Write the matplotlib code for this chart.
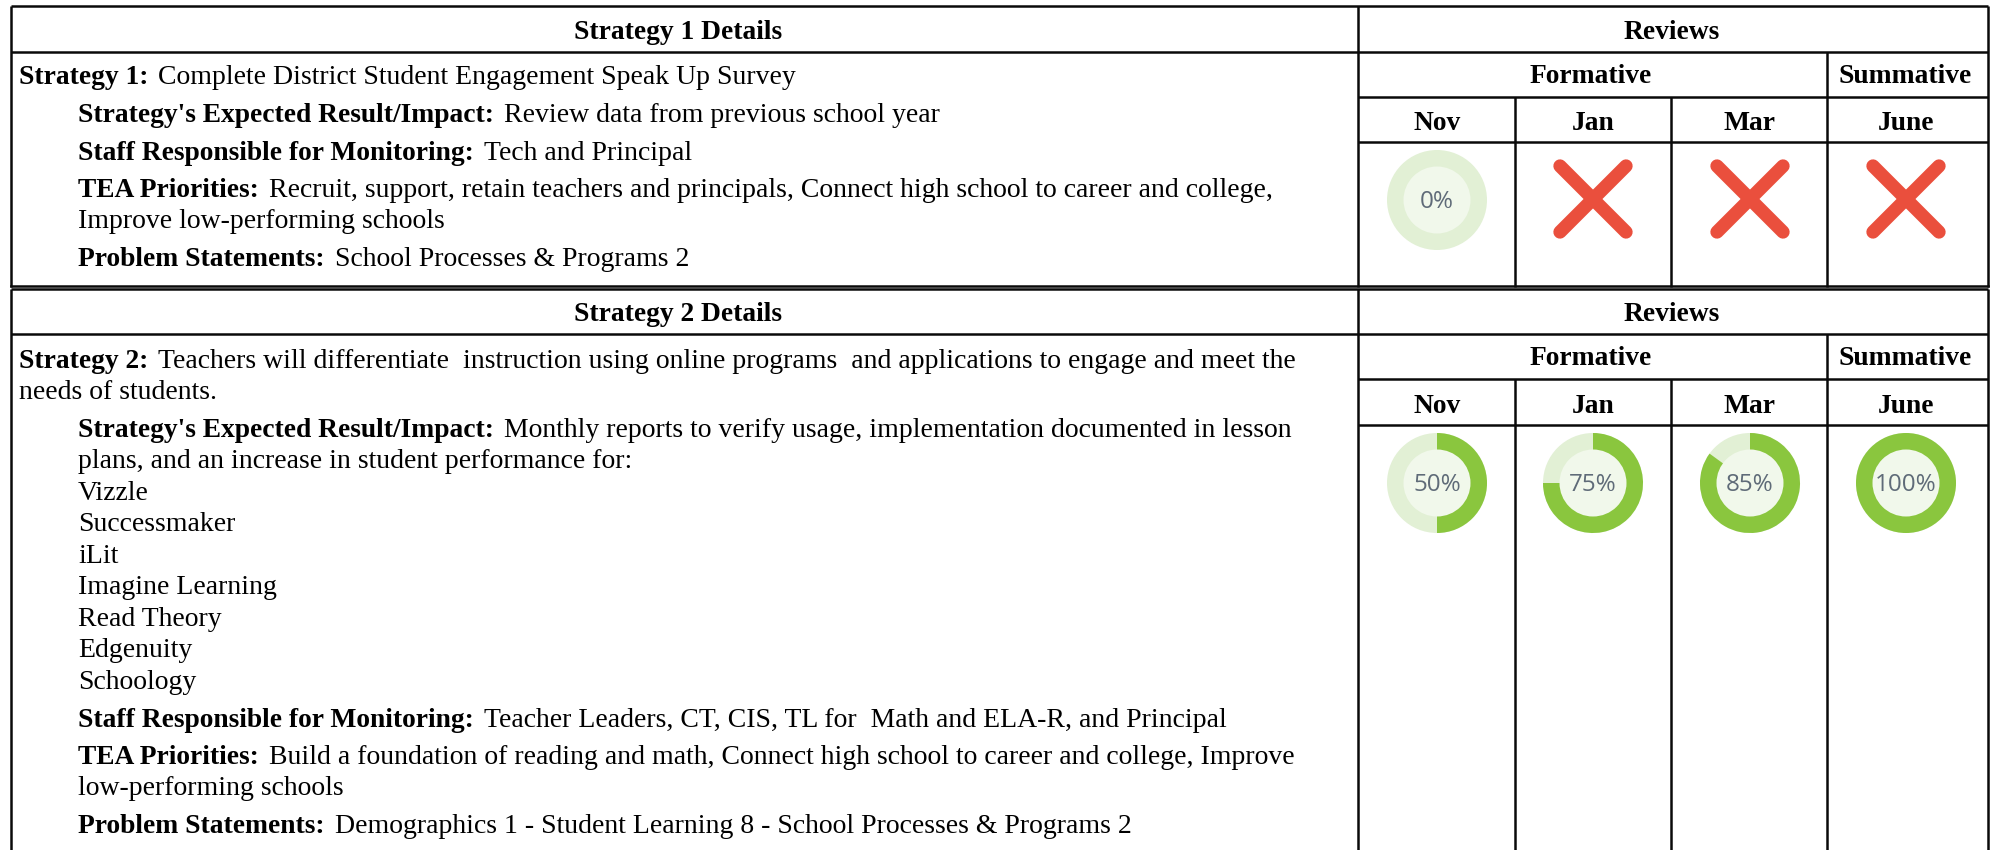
import matplotlib
matplotlib.use("Agg")
import matplotlib.pyplot as plt
from matplotlib.patches import Wedge, Circle

months = ["Nov", "Jan", "Mar", "June"]
month_x = [1437, 1593, 1750, 1906]
# None means the review was not done (red cross)
reviews_1 = [0, None, None, None]
reviews_2 = [50, 75, 85, 100]

rows_1 = [
    ("Strategy 1:", "Complete District Student Engagement Speak Up Survey"),
    ("Strategy's Expected Result/Impact:", "Review data from previous school year"),
    ("Staff Responsible for Monitoring:", "Tech and Principal"),
    ("TEA Priorities:", "Recruit, support, retain teachers and principals, Connect high school to career and college,"),
    ("", "Improve low-performing schools"),
    ("Problem Statements:", "School Processes & Programs 2"),
]
rows_1_x = [19, 78, 78, 78, 78, 78]
rows_1_y = [84, 122, 160, 197, 228, 266]

rows_2 = [
    ("Strategy 2:", "Teachers will differentiate  instruction using online programs  and applications to engage and meet the"),
    ("", "needs of students."),
    ("Strategy's Expected Result/Impact:", "Monthly reports to verify usage, implementation documented in lesson"),
    ("", "plans, and an increase in student performance for:"),
    ("", "Vizzle"),
    ("", "Successmaker"),
    ("", "iLit"),
    ("", "Imagine Learning"),
    ("", "Read Theory"),
    ("", "Edgenuity"),
    ("", "Schoology"),
    ("Staff Responsible for Monitoring:", "Teacher Leaders, CT, CIS, TL for  Math and ELA-R, and Principal"),
    ("TEA Priorities:", "Build a foundation of reading and math, Connect high school to career and college, Improve"),
    ("", "low-performing schools"),
    ("Problem Statements:", "Demographics 1 - Student Learning 8 - School Processes & Programs 2"),
]
rows_2_x = [19, 19, 78, 78, 78, 78, 78, 78, 78, 78, 78, 78, 78, 78, 78]
rows_2_y = [368, 399, 437, 468, 500, 531, 563, 594, 626, 657, 689, 727, 764, 795, 833]

FS = 19.85
FS_TEXT = 19.95
SERIF = "Liberation Serif"
GREEN = "#8ac63e"
LIGHT = "#e2f0d5"
INNER = "#f1f8eb"
RED = "#ea4f3d"
LINE = "#0a0a0a"
LW = 1.8

fig = plt.figure(figsize=(19.93, 8.5), dpi=100)
ax = fig.add_axes([0, 0, 1, 1])
ax.set_xlim(0, 1993)
ax.set_ylim(850, 0)
ax.axis("off")


def rich(x, y, bold, normal):
    if bold:
        t = ax.text(x, y, bold, family=SERIF, weight="bold", fontsize=FS, va="baseline", color="black")
        box = t.get_window_extent(fig.canvas.get_renderer())
        x = box.x1 + 10
    if normal:
        ax.text(x, y, normal, family=SERIF, fontsize=FS_TEXT, va="baseline", color="black")


def head(x, y, s):
    ax.text(x, y, s, family=SERIF, weight="bold", fontsize=FS, ha="center", va="baseline", color="black")


def donut(x, y, pct):
    ax.add_patch(Circle((x, y), 50, fc=LIGHT, ec="none"))
    if pct > 0:
        # y axis is flipped, so angles run clockwise from the top
        ax.add_patch(Wedge((x, y), 50, -90, -90 + 3.6 * pct, fc=GREEN, ec="none"))
    ax.add_patch(Circle((x, y), 33.5, fc=INNER, ec="none"))
    ax.text(x, y + 1.5, "%d%%" % pct, family="Open Sans", fontsize=17.5, color="#5f6b78", ha="center", va="center")


def cross(x, y):
    r = 33
    for d in (1, -1):
        ax.plot([x - r, x + r], [y - d * r, y + d * r], color=RED, lw=9.6, solid_capstyle="round")


def table(top, lines, bottom, reviews, rows, rows_x, rows_y):
    hline = lambda y, x0, x1: ax.plot([x0, x1], [y, y], color=LINE, lw=LW, solid_capstyle="butt")
    vline = lambda x, y0, y1: ax.plot([x, x], [y0, y1], color=LINE, lw=LW, solid_capstyle="butt")
    l1, l2, l3 = lines
    hline(top, 11, 1988)
    hline(l1, 11, 1988)
    hline(l2, 1358, 1988)
    hline(l3, 1358, 1988)
    vline(11, top, bottom)
    vline(1358, top, bottom)
    vline(1988, top, bottom)
    vline(1827, l1, bottom)
    vline(1515, l2, bottom)
    vline(1671, l2, bottom)

    head(678, l1 - 13, "Strategy %d Details" % (1 if top < 100 else 2))
    head(1672, l1 - 13, "Reviews")
    head(1591, l2 - 14, "Formative")
    head(1905, l2 - 14, "Summative")
    for m, x in zip(months, month_x):
        head(x, l3 - 12, m)

    for x, v in zip(month_x, reviews):
        if v is None:
            cross(x, l3 + 57)
        else:
            donut(x, l3 + 58, v)

    for (b, n), x, y in zip(rows, rows_x, rows_y):
        rich(x, y, b, n)


table(6, (52, 97, 142), 287, reviews_1, rows_1, rows_1_x, rows_1_y)
ax.plot([11, 1988], [285.5, 285.5], color=LINE, lw=LW)
table(288.5, (334, 379, 425), 850, reviews_2, rows_2, rows_2_x, rows_2_y)

fig.savefig("out.png", dpi=100)
